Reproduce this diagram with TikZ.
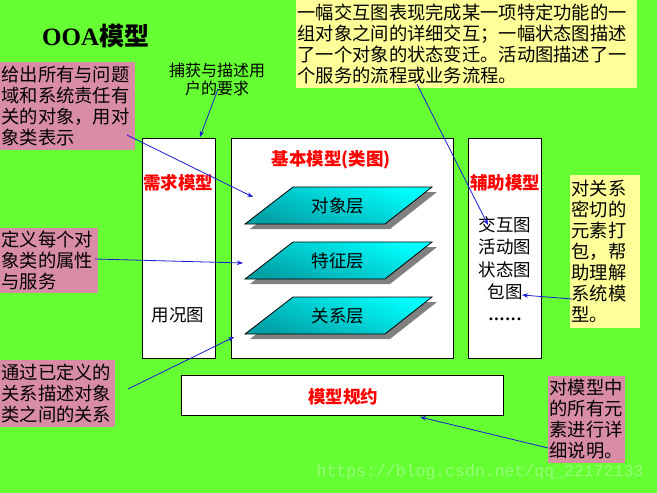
\documentclass[tikz,border=0pt]{standalone}
\usepackage{fontspec}
\setmainfont{Liberation Serif}
\newfontfamily\cjk{Noto Sans CJK SC}
\newfontfamily\wmfont{Liberation Mono}
\usetikzlibrary{arrows.meta}
\definecolor{bggreen}{RGB}{102,255,51}
\definecolor{notepink}{RGB}{217,140,166}
\definecolor{noteyellow}{RGB}{255,255,153}
\definecolor{layercyan}{RGB}{0,255,255}
\definecolor{layerdark}{RGB}{0,160,165}
\definecolor{shadowgray}{RGB}{128,128,128}
\definecolor{linkblue}{RGB}{25,25,215}
\definecolor{titlered}{RGB}{255,0,0}
\definecolor{wmcolor}{RGB}{150,255,120}

\tikzset{
  note/.style={anchor=north west, align=left, inner xsep=1.5pt, inner ysep=1pt,
    outer sep=0pt, font=\cjk\fontsize{18.3}{21}\selectfont},
  pinknote/.style={note, fill=notepink},
  yellownote/.style={note, fill=noteyellow},
  panel/.style={anchor=north west, draw=black, line width=0.9pt, fill=white,
    inner sep=0pt, outer sep=0pt},
  redtitle/.style={text=titlered, font=\cjk\bfseries\fontsize{17.5}{20}\selectfont, inner sep=0pt},
  plain/.style={font=\cjk\fontsize{17.5}{22.5}\selectfont, inner sep=0pt, align=center},
  layerbox/.style={draw=black, line width=0.8pt, shading=axis, top color=layercyan,
    middle color=layercyan, bottom color=layerdark, shading angle=-20},
  layershadow/.style={fill=shadowgray},
  link/.style={draw=linkblue, line width=0.8pt, -{Stealth[length=6pt,width=4.5pt]}},
}

\begin{document}
\begin{tikzpicture}[x=1pt,y=-1pt]
  % canvas
  \fill[bggreen] (0,0) rectangle (657,493);
  \useasboundingbox (0,0) rectangle (657,493);

  % heading
  \node[anchor=west, inner sep=0pt] (title) at (42,36)
    {\bfseries\fontsize{25}{28}\selectfont OOA{\cjk 模型}};

  % three model panels and the specification bar
  \node[panel, minimum width=73pt, minimum height=220pt] (req) at (142,138) {};
  \node[panel, minimum width=222pt, minimum height=220pt] (base) at (231,138) {};
  \node[panel, minimum width=73pt, minimum height=220pt] (aux) at (468,138) {};
  \node[panel, minimum width=322pt, minimum height=40pt] (spec) at (181,375) {};

  \node[redtitle] (reqtitle) at (178,183) {需求模型};
  \node[plain] (usecase) at (178,315) {用况图};
  \node[redtitle] (basetitle) at (331,160) {基本模型(类图)};
  \node[redtitle] (auxtitle) at (505,183) {辅助模型};
  \node[plain, anchor=north] (auxlist) at (505,216)
    {交互图\\活动图\\状态图\\包图\\[-1pt]\rmfamily\bfseries
     \makebox[5.6pt]{.}\makebox[5.6pt]{.}\makebox[5.6pt]{.}\makebox[5.6pt]{.}\makebox[5.6pt]{.}\makebox[5.6pt]{.}};
  \node[redtitle] (spectitle) at (343,397) {模型规约};

  % layers of the class model, each a shaded slab with a drop shadow
  \foreach \ty/\nm/\txt in {187/obj/对象层, 242/feat/特征层, 297/rel/关系层}{
    \fill[layershadow] (298,\ty+5) -- (437,\ty+5) -- (390,\ty+42) -- (250,\ty+42) -- cycle;
    \path[layerbox] (293,\ty) -- (432,\ty) -- (385,\ty+37) -- (245,\ty+37) -- cycle;
    \node[plain] (\nm) at (338,\ty+19) {\txt};
  }

  % explanatory notes
  \node[pinknote, text width=132pt, minimum height=88pt] (n1) at (0,62)
    {给出所有与问题\\域和系统责任有\\关的对象，用对\\象类表示};
  \node[pinknote, text width=95pt, minimum height=65pt] (n2) at (0,228)
    {定义每个对\\象类的属性\\与服务};
  \node[pinknote, text width=112pt, minimum height=67pt] (n3) at (0,360)
    {通过已定义的\\关系描述对象\\类之间的关系};
  \node[pinknote, text width=74pt, minimum height=87pt] (n4) at (548,376)
    {对模型中\\的所有元\\素进行详\\细说明。};
  \node[yellownote, text width=338pt, minimum height=88pt] (n5) at (296,0)
    {一幅交互图表现完成某一项特定功能的一\\组对象之间的详细交互；一幅状态图描述\\了一个对象的状态变迁。活动图描述了一\\个服务的流程或业务流程。};
  \node[yellownote, text width=67pt, minimum height=153pt] (n6) at (570,175)
    {对关系\\密切的\\元素打\\包，帮\\助理解\\系统模\\型。};
  \node[font=\cjk\fontsize{16}{18}\selectfont, align=center, inner sep=0pt] (capture) at (217,79)
    {捕获与描述用\\户的要求};

  % connector end points
  \coordinate (s1) at (127,135);  \coordinate (e1) at (253,197);
  \coordinate (s2) at (218,89);   \coordinate (e2) at (200,137);
  \coordinate (s3) at (95,259);   \coordinate (e3) at (243,263);
  \coordinate (s4) at (128,389);  \coordinate (e4) at (234,337);
  \coordinate (s5) at (417,84);   \coordinate (e5) at (488,225);
  \coordinate (s6) at (572,299);  \coordinate (e6) at (522,295);
  \coordinate (s7) at (548,448);  \coordinate (e7) at (420,417);

  \draw[link] (s1) -- (e1);
  \draw[link] (s2) -- (e2);
  \draw[link] (s3) -- (e3);
  \draw[link] (s4) -- (e4);
  \draw[link] (s5) -- (e5);
  \draw[link] (s6) -- (e6);
  \draw[link] (s7) -- (e7);

  % source address
  \node[text=wmcolor, font=\wmfont\fontsize{16.5}{18}\selectfont, inner sep=0pt] (url) at (480,472)
    {https://blog.csdn.net/qq\_22172133};
\end{tikzpicture}
\end{document}
